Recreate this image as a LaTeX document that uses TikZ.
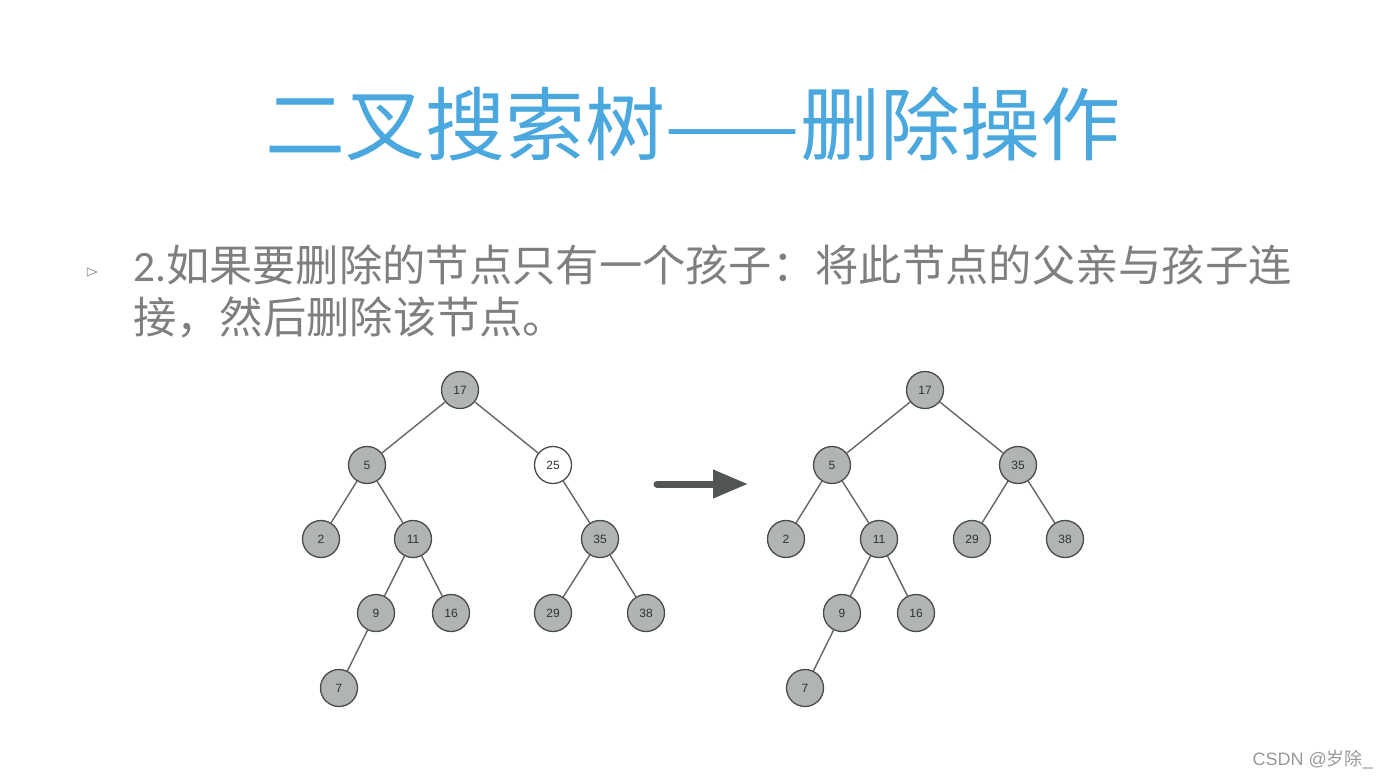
\documentclass[tikz,border=0pt]{standalone}
\usepackage{fontspec}
\setmainfont{Liberation Sans}
\newfontfamily\cjk{Noto Sans CJK SC}
\newfontfamily\carl{Carlito}
\usetikzlibrary{arrows.meta,shapes.geometric}
\definecolor{titleblue}{HTML}{4AA8DF}
\definecolor{bodygray}{HTML}{7F7F7F}
\definecolor{nodefill}{HTML}{B1B4B4}
\definecolor{nodeedge}{HTML}{4A4A4A}
\definecolor{edgegray}{HTML}{666666}
\definecolor{arrowgray}{HTML}{4F5655}
\begin{document}
\begin{tikzpicture}[x=1pt,y=-1pt,
  tn/.style={circle,draw=nodeedge,line width=1.3pt,fill=nodefill,minimum size=37pt,inner sep=0pt,font=\fontsize{12}{12}\selectfont,text=black!80},
  wn/.style={tn,fill=white},
  te/.style={draw=edgegray,line width=1.4pt},
  bigarrow/.style={draw=arrowgray,line width=7pt,line cap=round,-{Triangle[length=35pt,width=27pt]}}
]
\useasboundingbox (0,0) rectangle (1386,779);
\fill[white] (0,0) rectangle (1386,779);
% title
\node[text=titleblue,font=\cjk\fontsize{80}{80}\selectfont,inner sep=0pt] (title) at (693,124) {二叉搜索树——删除操作};
% bullet
\node[draw=bodygray!80,isosceles triangle,inner sep=0pt,minimum size=8pt,line width=0.8pt] (bullet) at (90,272) {};
% body
\node[anchor=west,text=bodygray,inner sep=0pt,align=left,font=\cjk\fontsize{43.3}{52}\selectfont] (body) at (133,291) {{\carl 2.}如果要删除的节点只有一个孩子：将此节点的父亲与孩子连\\接，然后删除该节点。};
% left tree
\node[tn] (a17) at (460,390) {17};
\node[tn] (a5) at (367,465) {5};
\node[wn] (a25) at (553,465) {25};
\node[tn] (a2) at (321,539) {2};
\node[tn] (a11) at (413,539) {11};
\node[tn] (a35) at (600,539) {35};
\node[tn] (a9) at (376,613) {9};
\node[tn] (a16) at (451,613) {16};
\node[tn] (a29) at (553,613) {29};
\node[tn] (a38) at (646,613) {38};
\node[tn] (a7) at (339,688) {7};
\path[te] (a17)--(a5) (a17)--(a25) (a5)--(a2) (a5)--(a11) (a25)--(a35)
  (a11)--(a9) (a11)--(a16) (a35)--(a29) (a35)--(a38) (a9)--(a7);
% arrow
\coordinate (p1) at (657,484);
\coordinate (p2) at (748,484);
\draw[bigarrow] (p1) -- (p2);
% right tree
\node[tn] (b17) at (925,390) {17};
\node[tn] (b5) at (832,465) {5};
\node[tn] (b35) at (1018,465) {35};
\node[tn] (b2) at (786,539) {2};
\node[tn] (b11) at (879,539) {11};
\node[tn] (b29) at (972,539) {29};
\node[tn] (b38) at (1065,539) {38};
\node[tn] (b9) at (842,613) {9};
\node[tn] (b16) at (916,613) {16};
\node[tn] (b7) at (805,688) {7};
\path[te] (b17)--(b5) (b17)--(b35) (b5)--(b2) (b5)--(b11) (b35)--(b29) (b35)--(b38)
  (b11)--(b9) (b11)--(b16) (b9)--(b7);
% watermark
\node[anchor=east,text=black!40,inner sep=0pt,font=\fontsize{18}{18}\selectfont] (wm) at (1373,760) {CSDN @{\cjk 岁除}\_};
\end{tikzpicture}
\end{document}
